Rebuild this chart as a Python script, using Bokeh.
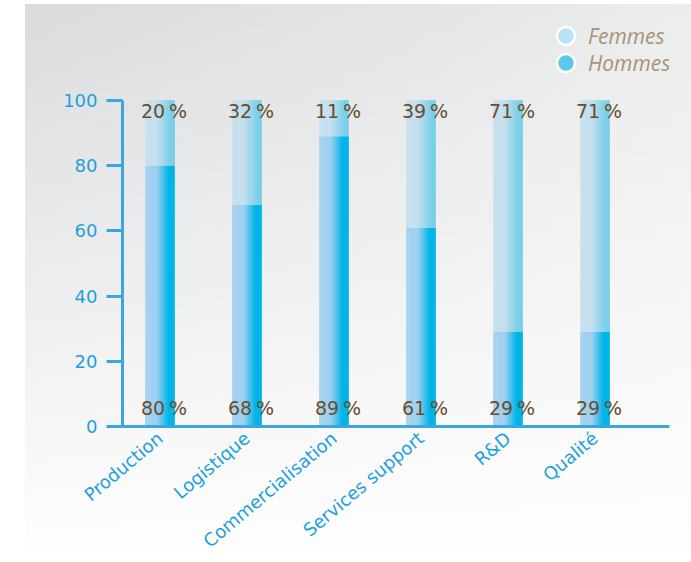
import math
from bokeh.plotting import figure
from bokeh.models import FixedTicker, Legend, InlineStyleSheet, Range1d
from bokeh.core.properties import value
from bokeh.embed import file_html
from bokeh.resources import INLINE

# ---- data ----
categories = ["Production", "Logistique", "Commercialisation", "Services support", "R&D", "Qualité"]
hommes = [80, 68, 89, 61, 29, 29]
femmes = [20, 32, 11, 39, 71, 71]
y_ticks = [0, 20, 40, 60, 80, 100]

idx = list(range(len(categories)))
totals = [h + f for h, f in zip(hommes, femmes)]
hommes_labels = [f"{v}\u202f%" for v in hommes]
femmes_labels = [f"{v}\u202f%" for v in femmes]

AXIS_BLUE = "#3aa6dc"
LABEL_BLUE = "#1da0dc"
BROWN = "#6b4c2c"

p = figure(width=691, height=562, output_backend="svg", toolbar_location=None,
           x_range=Range1d(-0.431, 5.856), y_range=Range1d(0, 126.6),
           min_border_left=122, min_border_right=22, min_border_top=13, min_border_bottom=136)
p.background_fill_alpha = 0
p.border_fill_alpha = 0
p.outline_line_color = None
p.xgrid.visible = False
p.ygrid.visible = False
p.stylesheets = [InlineStyleSheet(css=""":host {
  background:
    linear-gradient(to right, #ffffff 25px, rgba(255,255,255,0) 25px),
    linear-gradient(to bottom, #ffffff 4px, rgba(255,255,255,0) 4px),
    linear-gradient(to bottom, rgba(255,255,255,0) 0%, rgba(255,255,255,0.55) 55%, #ffffff 100%),
    linear-gradient(to right, #d9dadc, #ebecec);
}""")]


def interp(stops, t):
    for (t0, c0), (t1, c1) in zip(stops[:-1], stops[1:]):
        if t0 <= t <= t1:
            a = 0 if t1 == t0 else (t - t0) / (t1 - t0)
            c = tuple(int(round(c0[j] + (c1[j] - c0[j]) * a)) for j in range(3))
            return "#%02x%02x%02x" % c
    return "#%02x%02x%02x" % stops[-1][1]


lower_stops = [(0.0, (166, 211, 240)), (0.4, (160, 208, 240)), (0.8, (0, 180, 232)), (1.0, (0, 180, 232))]
upper_stops = [(0.0, (202, 225, 238)), (0.4, (196, 223, 238)), (0.85, (125, 208, 232)), (1.0, (120, 206, 232))]

BAR_W = 0.333
N = 14
xs, tops_l, bots_u, tops_u, cl, cu = [], [], [], [], [], []
for i in idx:
    for k in range(N):
        t = (k + 0.5) / N
        xs.append(i - BAR_W / 2 + t * BAR_W)
        tops_l.append(hommes[i])
        bots_u.append(hommes[i])
        tops_u.append(totals[i])
        cl.append(interp(lower_stops, t))
        cu.append(interp(upper_stops, t))

p.vbar(x=xs, width=BAR_W / N * 1.35, bottom=0, top=tops_l, fill_color=cl, line_color=None)
p.vbar(x=xs, width=BAR_W / N * 1.35, bottom=bots_u, top=tops_u, fill_color=cu, line_color=None)

# percentage labels
p.text(x=idx, y=totals, text=femmes_labels, text_align="center", text_baseline="middle",
       x_offset=4, y_offset=11, text_color=BROWN, text_font=value("DejaVu Sans"), text_font_size="19px")
p.text(x=idx, y=[0] * len(idx), text=hommes_labels, text_align="center", text_baseline="middle",
       x_offset=4, y_offset=-19, text_color=BROWN, text_font=value("DejaVu Sans"), text_font_size="19px")

# axes
xa = p.xaxis[0]
xa.ticker = FixedTicker(ticks=idx)
xa.major_label_overrides = {i: c for i, c in zip(idx, categories)}
xa.major_label_orientation = 0.70
xa.major_tick_line_color = None
xa.minor_tick_line_color = None
xa.axis_line_color = AXIS_BLUE
xa.axis_line_width = 3
xa.major_label_text_color = LABEL_BLUE
xa.major_label_text_font = "DejaVu Sans"
xa.major_label_text_font_size = "18px"
xa.major_label_standoff = 3

ya = p.yaxis[0]
ya.ticker = FixedTicker(ticks=y_ticks)
ya.bounds = (0, 100)
ya.major_tick_out = 16
ya.major_tick_in = 0
ya.major_tick_line_width = 3
ya.major_tick_line_color = AXIS_BLUE
ya.minor_tick_line_color = None
ya.axis_line_color = AXIS_BLUE
ya.axis_line_width = 3
ya.major_label_text_color = LABEL_BLUE
ya.major_label_text_font = "DejaVu Sans"
ya.major_label_text_font_size = "18px"
ya.major_label_standoff = 9

# legend: one legend per entry (hidden anchor points, only the swatches are visible)
nan = float("nan")
r_f = p.scatter([nan], [nan], size=18, fill_color="#b9e2f6", line_color="white", line_width=2.5)
r_h = p.scatter([nan], [nan], size=18, fill_color="#5cc6ef", line_color="white", line_width=2.5)
legend_style = dict(background_fill_alpha=0, border_line_color=None,
                    label_text_font_style="italic", label_text_color="#a8927a",
                    label_text_font="Open Sans", label_text_font_size="21px",
                    glyph_width=45, glyph_height=45, label_height=22, spacing=0,
                    padding=0, margin=0, label_standoff=0)
p.add_layout(Legend(items=[("Femmes", [r_f])], location=(421, 368), **legend_style))
p.add_layout(Legend(items=[("Hommes", [r_h])], location=(421, 341), **legend_style))

open("out.html", "w").write(file_html(p, INLINE))
